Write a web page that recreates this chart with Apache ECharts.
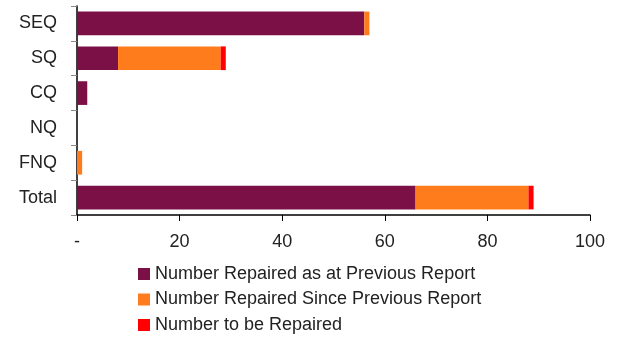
<!DOCTYPE html>
<html>
<head>
<meta charset="utf-8">
<script src="https://cdn.jsdelivr.net/npm/echarts@6/dist/echarts.min.js"></script>
<style>
  html, body { margin: 0; padding: 0; background: #fff; }
  #chart { width: 622px; height: 338px; }
</style>
</head>
<body>
<div id="chart"></div>
<script>
const regions = ["SEQ", "SQ", "CQ", "NQ", "FNQ", "Total"];
const repairedPrevious = [56, 8, 2, 0, 0, 66];
const repairedSince = [1, 20, 0, 0, 1, 22];
const toBeRepaired = [0, 1, 0, 0, 0, 1];

const chart = echarts.init(document.getElementById("chart"));
const font = "Liberation Sans";

chart.setOption({
  animation: false,
  textStyle: { fontFamily: font },
  grid: { left: 77, right: 32, top: 6, bottom: 123 },
  legend: {
    orient: "vertical",
    left: 133,
    top: 260,
    height: 80,
    itemWidth: 12,
    itemHeight: 12,
    itemGap: 7.5,
    icon: "rect",
    textStyle: { fontSize: 18, color: "#222", fontFamily: font, lineHeight: 18 },
    data: [
      "Number Repaired as at Previous Report",
      "Number Repaired Since Previous Report",
      "Number to be Repaired"
    ]
  },
  xAxis: {
    type: "value",
    min: 0,
    max: 100,
    interval: 20,
    splitLine: { show: false },
    axisLine: { show: true, lineStyle: { color: "#000", width: 1.5 } },
    axisTick: { show: true, length: 6, lineStyle: { color: "#000" } },
    axisLabel: {
      fontSize: 18,
      color: "#222",
      margin: 18,
      formatter: function (v) { return v === 0 ? "-" : v; }
    }
  },
  yAxis: {
    type: "category",
    inverse: true,
    data: regions,
    axisLine: { show: true, lineStyle: { color: "#000", width: 1.5 } },
    axisTick: { show: true, length: 6, lineStyle: { color: "#888" } },
    axisLabel: { fontSize: 18, color: "#222", margin: 20 }
  },
  series: [
    {
      name: "Number Repaired as at Previous Report",
      type: "bar",
      stack: "total",
      barWidth: "68%",
      itemStyle: { color: "#7a1046" },
      data: repairedPrevious
    },
    {
      name: "Number Repaired Since Previous Report",
      type: "bar",
      stack: "total",
      itemStyle: { color: "#ff7c1c" },
      data: repairedSince
    },
    {
      name: "Number to be Repaired",
      type: "bar",
      stack: "total",
      itemStyle: { color: "#ff0000" },
      data: toBeRepaired
    }
  ]
});
</script>
</body>
</html>
